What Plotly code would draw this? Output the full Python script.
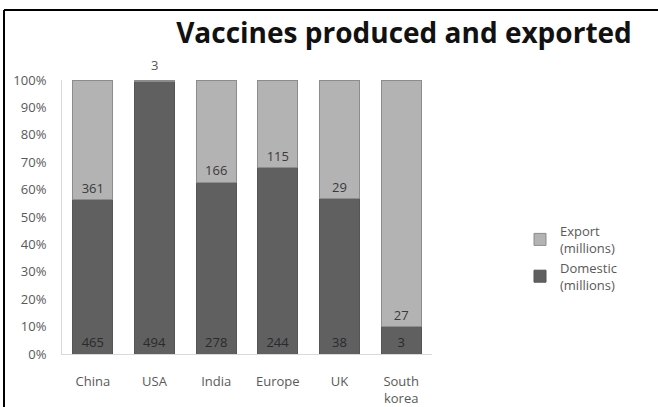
import plotly.graph_objects as go

categories = ["China", "USA", "India", "Europe", "UK", "South<br>korea"]
domestic = [465, 494, 278, 244, 38, 3]
export = [361, 3, 166, 115, 29, 27]
y_ticks = list(range(0, 101, 10))
y_tick_labels = [f"{v}%" for v in y_ticks]

FONT = "Open Sans"
FS = 13
small = [v / (v + d) < 0.05 for v, d in zip(export, domestic)]

fig = go.Figure()
fig.add_trace(go.Bar(
    x=categories, y=domestic, name="Domestic<br>(millions)",
    marker=dict(color="#606060", line=dict(color="#555555", width=1)),
    text=[str(v) for v in domestic], textposition="inside", insidetextanchor="start",
    textfont=dict(family=FONT, size=FS, color="#2a2a2a"), constraintext="none",
    cliponaxis=False,
))
fig.add_trace(go.Bar(
    x=categories, y=export, name="Export<br>(millions)",
    marker=dict(color="#b3b3b3", line=dict(color="#8c8c8c", width=1)),
    text=["" if s else str(v) for v, s in zip(export, small)], textposition="inside",
    insidetextanchor="start",
    textfont=dict(family=FONT, size=FS, color="#3a3a3a"),
    constraintext="none", cliponaxis=False,
))
for c, v, s in zip(categories, export, small):
    if s:
        fig.add_annotation(x=c, y=100, yref="y", text=str(v), showarrow=False,
                           yanchor="bottom", yshift=4,
                           font=dict(family=FONT, size=FS, color="#555555"))

W, H = 658, 407
L, R, T, B = 62, 226, 80, 53
pw, ph = W - L - R, H - T - B
def px(x): return (x - L) / pw
def py(y): return (H - B - y) / ph

fig.update_layout(
    width=W, height=H, barmode="stack", barnorm="percent", bargap=0.35,
    margin=dict(l=L, r=R, t=T, b=B, autoexpand=False),
    paper_bgcolor="white", plot_bgcolor="white",
    font=dict(family=FONT, size=FS, color="#595959"),
    title=dict(text="<b>Vaccines produced and exported</b>", x=px(404), xref="paper",
               xanchor="center", y=1 - 33 / H, yanchor="middle",
               font=dict(family=FONT, size=28, color="#111111")),
    xaxis=dict(showline=True, linecolor="#d9d9d9", linewidth=1, ticks="",
               tickfont=dict(size=FS, color="#595959"), showgrid=False,
               ticklabelstandoff=15, automargin=False),
    yaxis=dict(range=[0, 100], tickvals=y_ticks, ticktext=y_tick_labels,
               showline=True, linecolor="#d9d9d9", linewidth=1, ticks="",
               showgrid=False, zeroline=False, tickfont=dict(size=FS, color="#595959"),
               ticklabelstandoff=12, automargin=False),
    legend=dict(x=px(520), y=py(216), xanchor="left", yanchor="top",
                traceorder="reversed", font=dict(size=FS, color="#595959"),
                itemwidth=30, tracegroupgap=0, bgcolor="rgba(0,0,0,0)"),
    shapes=[
        dict(type="line", xref="paper", yref="paper", x0=px(4), x1=px(4), y0=py(10), y1=py(407),
             line=dict(color="black", width=2)),
        dict(type="line", xref="paper", yref="paper", x0=px(4), x1=px(658), y0=py(10), y1=py(10),
             line=dict(color="black", width=2)),
    ],
)

fig.write_html("out.html")
